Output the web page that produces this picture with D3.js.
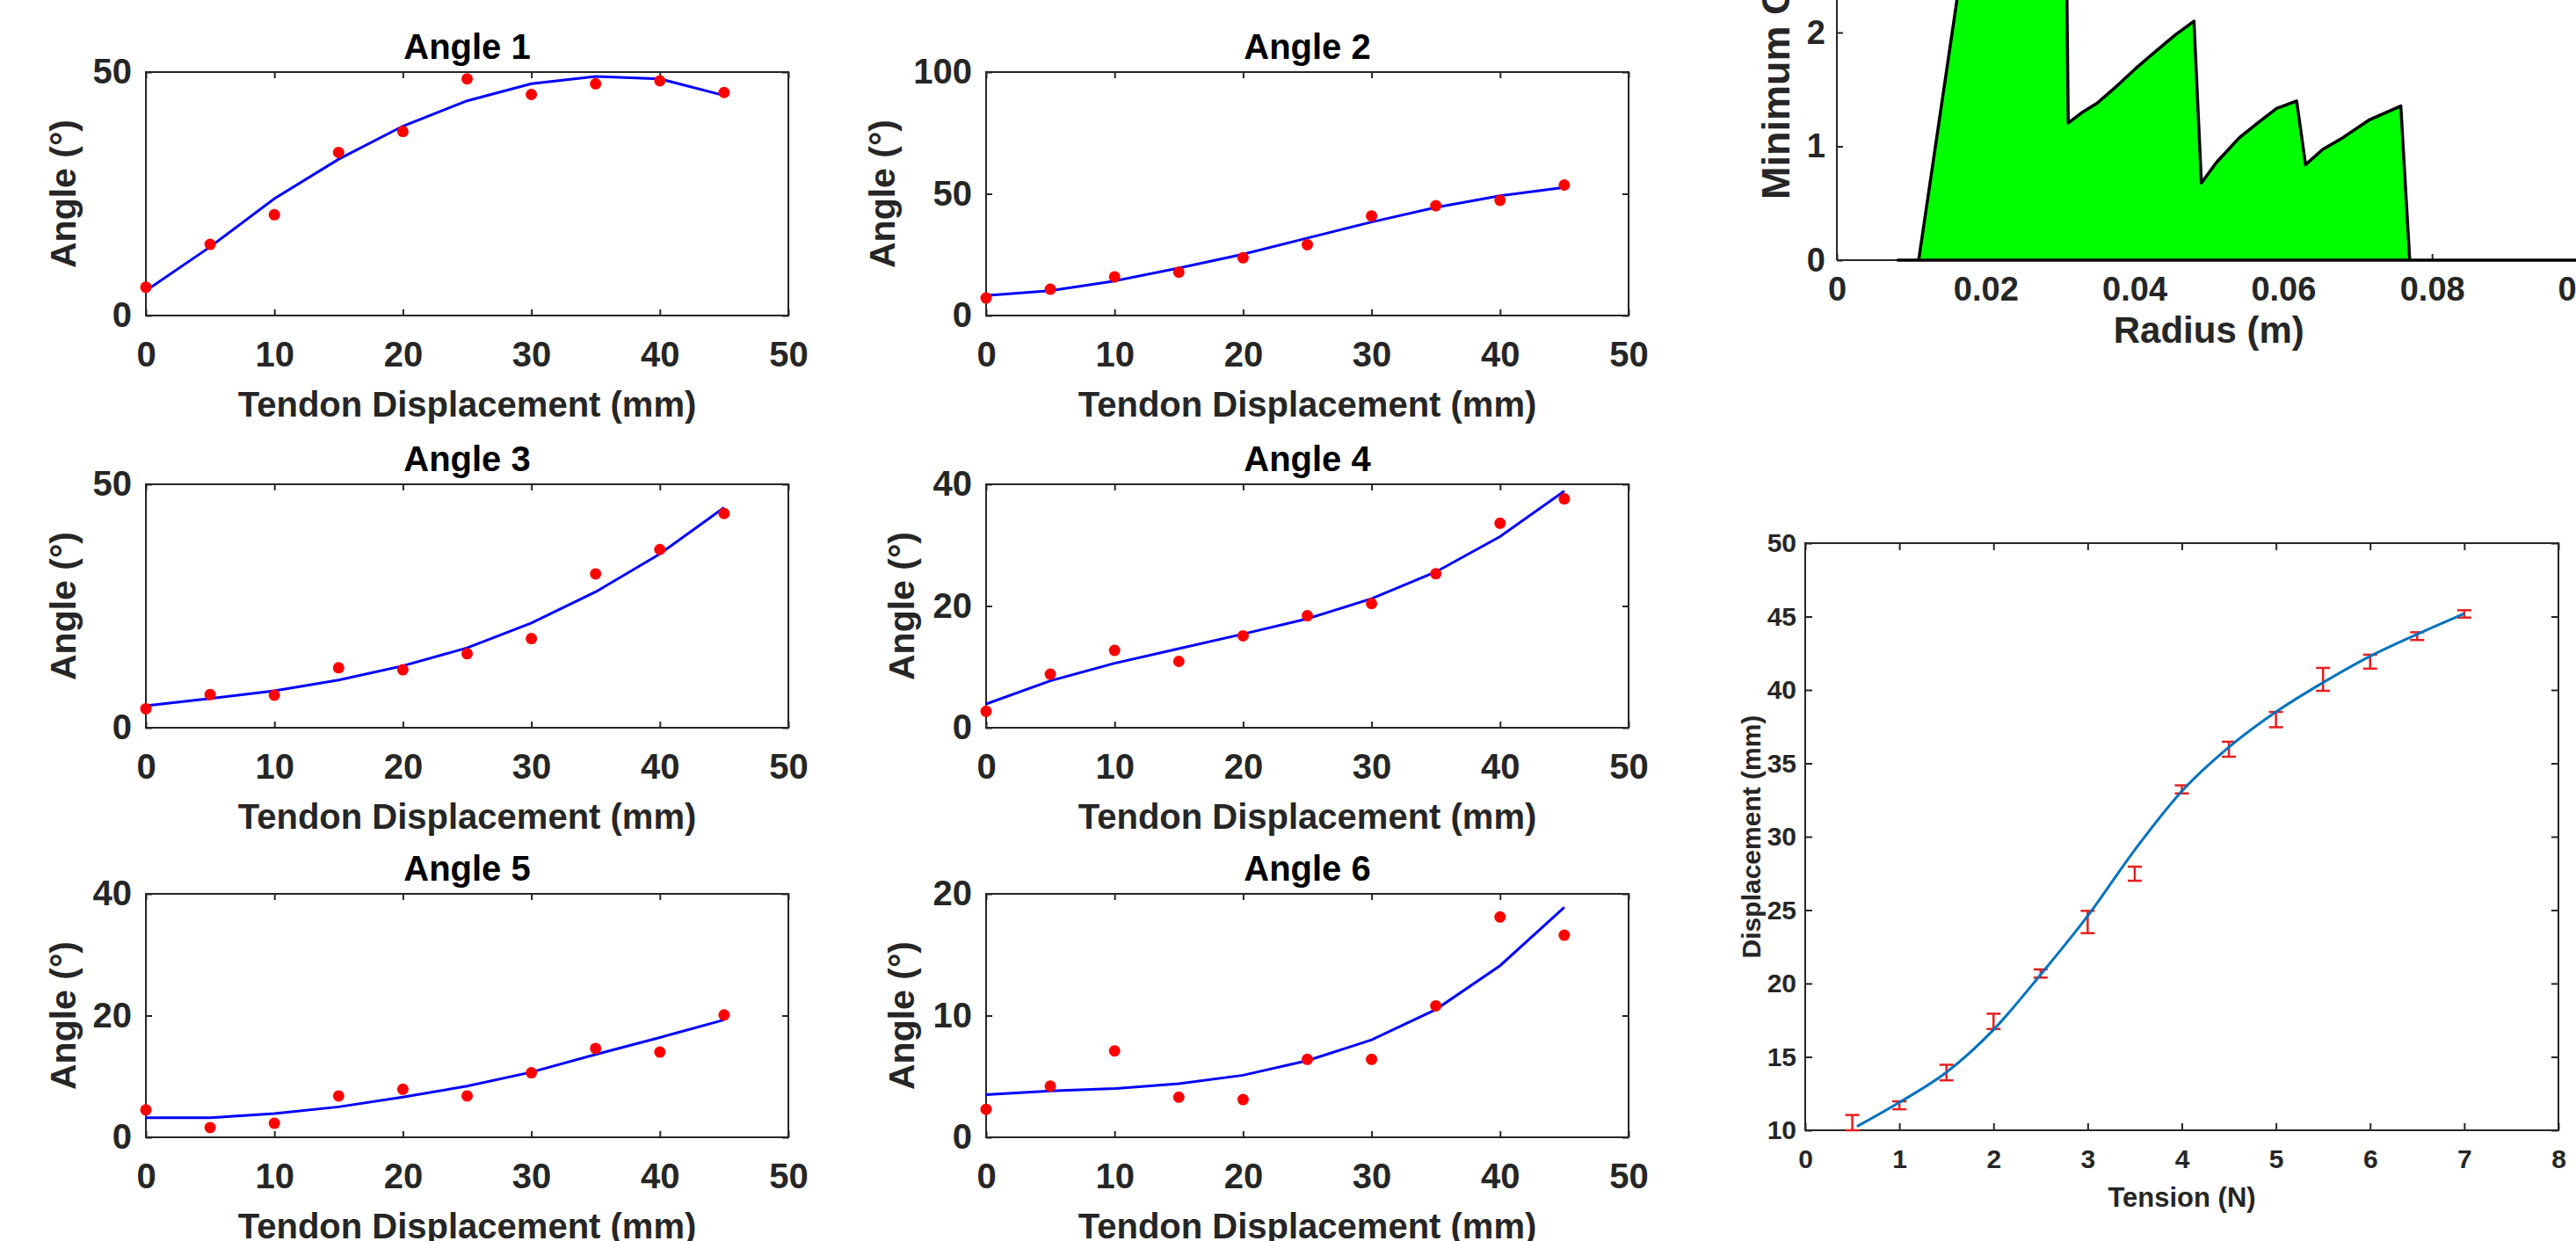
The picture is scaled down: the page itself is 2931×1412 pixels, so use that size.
<!DOCTYPE html>
<html>
<head>
<meta charset="utf-8">
<script src="https://cdn.jsdelivr.net/npm/d3@7"></script>
<style>
  html, body { margin: 0; padding: 0; background: #fff; overflow: hidden; }
  svg { display: block; }
</style>
</head>
<body>
<svg id="fig" width="2931" height="1412"></svg>
<script>
// ---- data ----
const tendon = [0, 5, 10, 15, 20, 25, 30, 35, 40, 45];
const tendonTicks = [0, 10, 20, 30, 40, 50];

const angle1Meas = [5.8, 14.6, 20.7, 33.5, 37.8, 48.6, 45.4, 47.6, 48.2, 45.8];
const angle1Fit  = [5.1, 14.1, 24.0, 32.1, 38.9, 44.1, 47.6, 49.1, 48.6, 45.2];
const angle2Meas = [7.2, 10.8, 15.9, 17.8, 23.7, 29.1, 40.9, 45.1, 47.3, 53.6];
const angle2Fit  = [8.2, 10.2, 14.2, 19.5, 25.2, 31.8, 38.4, 44.4, 49.2, 52.6];
const angle3Meas = [3.9, 6.8, 6.7, 12.3, 11.9, 15.2, 18.3, 31.6, 36.6, 44.0];
const angle3Fit  = [4.5, 6.0, 7.6, 9.8, 12.7, 16.4, 21.5, 27.9, 35.7, 45.2];
const angle4Meas = [2.7, 8.8, 12.7, 10.9, 15.1, 18.4, 20.4, 25.3, 33.6, 37.6];
const angle4Fit  = [3.9, 7.7, 10.6, 13.0, 15.4, 17.9, 21.2, 25.6, 31.4, 38.9];
const angle5Meas = [4.5, 1.6, 2.3, 6.8, 7.9, 6.8, 10.6, 14.6, 14.0, 20.1];
const angle5Fit  = [3.2, 3.2, 3.9, 5.0, 6.6, 8.4, 10.7, 13.6, 16.4, 19.3];
const angle6Meas = [2.3, 4.2, 7.1, 3.3, 3.1, 6.4, 6.4, 10.8, 18.1, 16.6];
const angle6Fit  = [3.5, 3.8, 4.0, 4.4, 5.1, 6.3, 8.0, 10.5, 14.1, 18.9];

const angleTitles = ['Angle 1', 'Angle 2', 'Angle 3', 'Angle 4', 'Angle 5', 'Angle 6'];
const angleMax = [50, 100, 50, 40, 40, 20];
const angleTicks = [[0, 50], [0, 50, 100], [0, 50], [0, 20, 40], [0, 20, 40], [0, 10, 20]];

const radius = [0.0082, 0.0110, 0.0191, 0.0306, 0.0311, 0.0329, 0.0350, 0.0378, 0.0401, 0.0424,
                0.0455, 0.0480, 0.0490, 0.0510, 0.0541, 0.0568, 0.0591, 0.0618, 0.0630, 0.0653,
                0.0677, 0.0715, 0.0758, 0.0770, 0.1];
const minC = [0, 0, 3.6, 4.3, 1.205, 1.295, 1.38, 1.54, 1.68, 1.81,
              1.98, 2.10, 0.677, 0.857, 1.076, 1.218, 1.333, 1.398, 0.839, 0.973,
              1.063, 1.23, 1.354, 0, 0];
const radiusTicks = [0, 0.02, 0.04, 0.06, 0.08, 0.1];
const minCTicks = [0, 1, 2];

const tension = [0.5, 1, 1.5, 2, 2.5, 3, 3.5, 4, 4.5, 5, 5.5, 6, 6.5, 7];
const dispLow  = [10.0, 11.43, 13.4, 16.9, 20.4, 23.43, 27.0, 32.95, 35.45, 37.46, 39.94, 41.45, 43.4, 44.93];
const dispHigh = [11.04, 11.97, 14.46, 17.94, 20.96, 24.95, 27.96, 33.5, 36.47, 38.5, 41.5, 42.4, 43.93, 45.43];
const fitTension = [0.55, 1, 1.5, 2, 2.5, 3, 3.5, 4, 4.5, 5, 5.5, 6, 6.5, 7];
const fitDisp    = [10.26, 11.9, 13.95, 16.85, 20.6, 24.6, 29.1, 33.1, 36.1, 38.5, 40.5, 42.3, 43.8, 45.2];
const tensionTicks = [0, 1, 2, 3, 4, 5, 6, 7, 8];
const dispTicks = [10, 15, 20, 25, 30, 35, 40, 45, 50];

// ---- drawing ----
const font = '"Liberation Sans", Arial, Helvetica, sans-serif';
const axisColor = '#262626';
const svg = d3.select('#fig').style('font-family', font).style('font-weight', 'bold');
const plain = d => String(+d.toFixed(2));

function styleAxis(g, size) {
  g.select('.domain').remove();
  g.selectAll('line').attr('stroke', axisColor).attr('stroke-width', 2);
  g.selectAll('text')
    .attr('fill', axisColor)
    .attr('font-size', size)
    .attr('font-family', font)
    .attr('font-weight', 'bold');
}

function label(g, txt, x, y, size, rotate, anchor) {
  return g.append('text')
    .attr('transform', `translate(${x},${y})` + (rotate ? ' rotate(-90)' : ''))
    .attr('text-anchor', anchor || 'middle')
    .attr('font-size', size)
    .attr('fill', axisColor)
    .text(txt);
}

const angleMeas = [angle1Meas, angle2Meas, angle3Meas, angle4Meas, angle5Meas, angle6Meas];
const angleFit = [angle1Fit, angle2Fit, angle3Fit, angle4Fit, angle5Fit, angle6Fit];
const colLeft = [166, 1122];
const rowTop = [82, 551, 1017];
const boxW = 731, boxH = 277;
const ylabelX = [86, 1018, 86, 1040, 86, 1040];

angleTitles.forEach((title, i) => {
  const left = colLeft[i % 2];
  const top = rowTop[Math.floor(i / 2)];
  const x = d3.scaleLinear().domain([0, 50]).range([left, left + boxW]);
  const y = d3.scaleLinear().domain([0, angleMax[i]]).range([top + boxH, top]);
  const g = svg.append('g');

  g.append('g').attr('transform', `translate(0,${top + boxH})`)
    .call(d3.axisBottom(x).tickValues(tendonTicks).tickSizeInner(-7).tickSizeOuter(0).tickPadding(30).tickFormat(plain))
    .call(styleAxis, 40);
  g.append('g').attr('transform', `translate(0,${top})`)
    .call(d3.axisTop(x).tickValues(tendonTicks).tickSizeInner(-7).tickSizeOuter(0).tickFormat(''))
    .call(styleAxis, 40);
  g.append('g').attr('transform', `translate(${left},0)`)
    .call(d3.axisLeft(y).tickValues(angleTicks[i]).tickSizeInner(-7).tickSizeOuter(0).tickPadding(16).tickFormat(plain))
    .call(styleAxis, 40);
  g.append('g').attr('transform', `translate(${left + boxW},0)`)
    .call(d3.axisRight(y).tickValues(angleTicks[i]).tickSizeInner(-7).tickSizeOuter(0).tickFormat(''))
    .call(styleAxis, 40);

  g.append('rect')
    .attr('x', left).attr('y', top)
    .attr('width', boxW).attr('height', boxH)
    .attr('fill', 'none')
    .attr('stroke', axisColor)
    .attr('stroke-width', 2);

  g.append('path')
    .datum(angleFit[i])
    .attr('fill', 'none')
    .attr('stroke', '#0000ff')
    .attr('stroke-width', 3)
    .attr('d', d3.line().x((d, j) => x(tendon[j])).y(d => y(d)));

  g.selectAll('circle.pt')
    .data(angleMeas[i])
    .enter().append('circle')
    .attr('class', 'pt')
    .attr('cx', (d, j) => x(tendon[j]))
    .attr('cy', d => y(d))
    .attr('r', 6.5)
    .attr('fill', '#ff0000');

  g.append('text')
    .attr('x', left + boxW / 2)
    .attr('y', top - 15)
    .attr('text-anchor', 'middle')
    .attr('font-size', 40)
    .attr('fill', '#000')
    .text(title);
  label(g, 'Tendon Displacement (mm)', left + boxW / 2, top + boxH + 115, 40);
  label(g, 'Angle (°)', ylabelX[i], top + boxH / 2, 41, true);
});

// top right: area chart, its upper part lies outside the picture
{
  const g = svg.append('g');
  const x = d3.scaleLinear().domain([0, 0.1]).range([2090, 2936.5]);
  const y = d3.scaleLinear().domain([0, 1]).range([296, 166.5]);

  g.append('line')
    .attr('x1', x(0)).attr('x2', x(0.1))
    .attr('y1', y(0)).attr('y2', y(0))
    .attr('stroke', axisColor).attr('stroke-width', 2);
  g.append('line')
    .attr('x1', x(0)).attr('x2', x(0))
    .attr('y1', y(0)).attr('y2', y(3))
    .attr('stroke', axisColor).attr('stroke-width', 2);

  g.append('g').attr('transform', `translate(0,${y(0)})`)
    .call(d3.axisBottom(x).tickValues(radiusTicks).tickSizeInner(-7).tickSizeOuter(0).tickPadding(19).tickFormat(plain))
    .call(styleAxis, 38);
  g.append('g').attr('transform', `translate(${x(0)},0)`)
    .call(d3.axisLeft(y).tickValues(minCTicks).tickSizeInner(-7).tickSizeOuter(0).tickPadding(13).tickFormat(plain))
    .call(styleAxis, 38);

  g.append('path')
    .datum(minC)
    .attr('fill', '#00ff00')
    .attr('stroke', '#000')
    .attr('stroke-width', 3.5)
    .attr('stroke-linejoin', 'round')
    .attr('d', d3.area().x((d, j) => x(radius[j])).y0(y(0)).y1(d => y(d)));

  label(g, 'Radius (m)', (x(0) + x(0.1)) / 2, 390, 42);
  label(g, 'Minimum C', 2036, 227, 45, true, 'start');
}

// bottom right: tension vs displacement with error bars
{
  const g = svg.append('g');
  const left = 2054, right = 2911, top = 618, bottom = 1286;
  const x = d3.scaleLinear().domain([0, 8]).range([left, right]);
  const y = d3.scaleLinear().domain([10, 50]).range([bottom, top]);

  g.append('g').attr('transform', `translate(0,${bottom})`)
    .call(d3.axisBottom(x).tickValues(tensionTicks).tickSizeInner(-8).tickSizeOuter(0).tickPadding(22).tickFormat(plain))
    .call(styleAxis, 30);
  g.append('g').attr('transform', `translate(0,${top})`)
    .call(d3.axisTop(x).tickValues(tensionTicks).tickSizeInner(-8).tickSizeOuter(0).tickFormat(''))
    .call(styleAxis, 30);
  g.append('g').attr('transform', `translate(${left},0)`)
    .call(d3.axisLeft(y).tickValues(dispTicks).tickSizeInner(-8).tickSizeOuter(0).tickPadding(10).tickFormat(plain))
    .call(styleAxis, 30);
  g.append('g').attr('transform', `translate(${right},0)`)
    .call(d3.axisRight(y).tickValues(dispTicks).tickSizeInner(-8).tickSizeOuter(0).tickFormat(''))
    .call(styleAxis, 30);

  g.append('rect')
    .attr('x', left).attr('y', top)
    .attr('width', right - left).attr('height', bottom - top)
    .attr('fill', 'none')
    .attr('stroke', axisColor)
    .attr('stroke-width', 2);

  const bars = g.selectAll('g.bar')
    .data(tension)
    .enter().append('g')
    .attr('class', 'bar')
    .attr('stroke', '#e41f1f')
    .attr('stroke-width', 2.5);
  bars.append('line')
    .attr('x1', d => x(d)).attr('x2', d => x(d))
    .attr('y1', (d, j) => y(dispLow[j])).attr('y2', (d, j) => y(dispHigh[j]));
  bars.append('line')
    .attr('x1', d => x(d) - 8).attr('x2', d => x(d) + 8)
    .attr('y1', (d, j) => y(dispLow[j])).attr('y2', (d, j) => y(dispLow[j]));
  bars.append('line')
    .attr('x1', d => x(d) - 8).attr('x2', d => x(d) + 8)
    .attr('y1', (d, j) => y(dispHigh[j])).attr('y2', (d, j) => y(dispHigh[j]));

  g.append('path')
    .datum(fitDisp)
    .attr('fill', 'none')
    .attr('stroke', '#0072bd')
    .attr('stroke-width', 3)
    .attr('d', d3.line().curve(d3.curveMonotoneX).x((d, j) => x(fitTension[j])).y(d => y(d)));

  label(g, 'Tension (N)', (left + right) / 2, 1373, 31);
  label(g, 'Displacement (mm)', 2003, (top + bottom) / 2, 30, true);
}
</script>
</body>
</html>
